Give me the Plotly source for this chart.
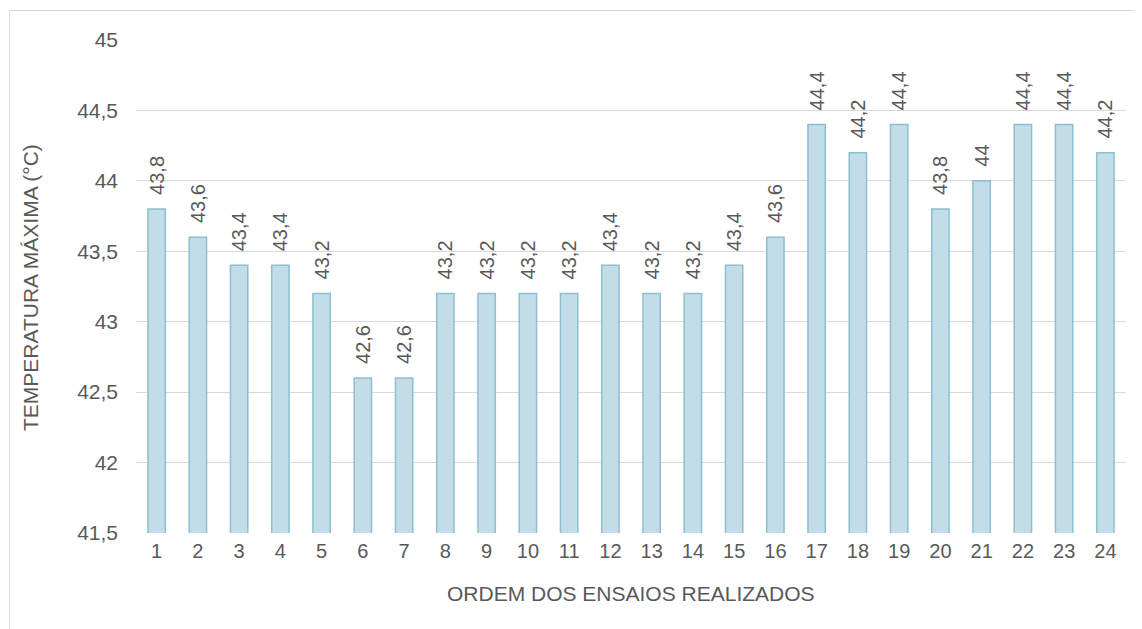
import plotly.graph_objects as go

categories = [str(i) for i in range(1, 25)]
values = [43.8, 43.6, 43.4, 43.4, 43.2, 42.6, 42.6, 43.2, 43.2, 43.2, 43.2, 43.4,
          43.2, 43.2, 43.4, 43.6, 44.4, 44.2, 44.4, 43.8, 44.0, 44.4, 44.4, 44.2]
y_ticks = [41.5, 42, 42.5, 43, 43.5, 44, 44.5, 45]

FONT = "Liberation Sans, Arial, sans-serif"
GREY = "#595959"

fig = go.Figure(go.Bar(
    x=categories, y=values,
    marker=dict(color="#c3dde8", line=dict(color="#8bbfd1", width=1.5)),
    text=["\u00a0\u00a0" + f"{v:g}".replace(".", ",") for v in values],
    textposition="outside", textangle=-90, constraintext="none",
    textfont=dict(family=FONT, size=20, color=GREY),
    cliponaxis=False,
))

# page body has an 8px offset, so layout positions are in page coords minus 8
OFF = 8
W, H = 1142, 629
L, T = 136 - OFF, 40 - OFF
R = W - (1126 - OFF)
B = H - (533 - OFF)
pw, ph = W - L - R, H - T - B


def px_x(x):
    return (x - OFF - L) / pw


def px_y(y):
    return (H - B - (y - OFF)) / ph


fig.update_layout(
    width=W, height=H,
    margin=dict(l=L, r=R, t=T, b=B),
    plot_bgcolor="white", paper_bgcolor="white",
    separators=", ",
    bargap=0.58,
    showlegend=False,
    font=dict(family=FONT, color=GREY, size=20),
    xaxis=dict(type="category", showgrid=False, showline=False, ticks="",
               automargin=False, tickfont=dict(size=20, color=GREY),
               ticklabelstandoff=4),
    yaxis=dict(range=[41.5, 45], tickvals=y_ticks,
               ticktext=[f"{v:g}".replace(".", ",") for v in y_ticks],
               showgrid=True, gridcolor="#d9d9d9", gridwidth=1,
               zeroline=False, showline=False, ticks="", automargin=False,
               tickfont=dict(size=21, color=GREY), ticklabelstandoff=17),
    annotations=[
        dict(text="ORDEM DOS ENSAIOS REALIZADOS", xref="paper", yref="paper",
             x=0.5, y=px_y(593), xanchor="center", yanchor="middle",
             showarrow=False, font=dict(size=21, color=GREY)),
        dict(text="TEMPERATURA MÁXIMA (°C)", xref="paper", yref="paper",
             x=px_x(30), y=px_y(288), xanchor="center", yanchor="middle",
             textangle=-90, showarrow=False, font=dict(size=21, color=GREY)),
    ],
    shapes=[dict(type="rect", xref="paper", yref="paper",
                 x0=px_x(9.5), x1=px_x(W + 20),
                 y0=px_y(H + 20), y1=px_y(10.5),
                 line=dict(color="#d9d9d9", width=1), layer="below")],
)

fig.write_html("out.html")
